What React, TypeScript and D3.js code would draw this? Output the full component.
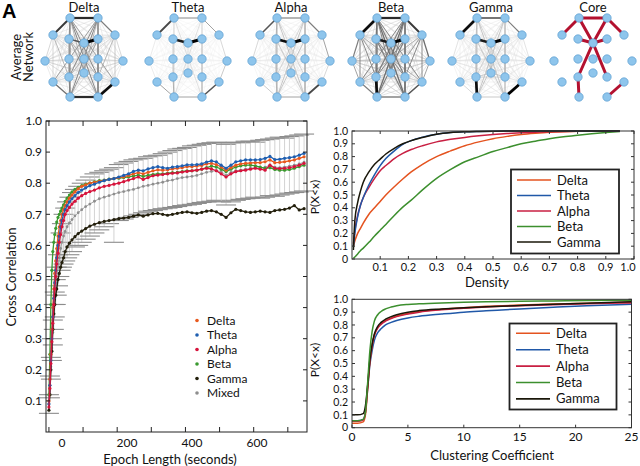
import React from 'react';
import * as d3 from 'd3';

const FONT = "Lato, 'DejaVu Sans', sans-serif";

// ---------------- Networks ----------------
const networkTitles = ['Delta', 'Theta', 'Alpha', 'Beta', 'Gamma', 'Core'];
const electrodeNames = ['Fp1','Fp2','F7','F3','Fz','F4','F8','T3','C3','Cz','C4','T4','T5','P3','Pz','P4','T6','O1','O2'];
const electrodeX = [-14, 14, -31, -15, 0, 14, 31, -39, -15, 0, 14, 39, -31, -15, 0, 14, 31, -14, 14];
const electrodeY = [-40, -40, -23, -19, -15, -19, -23, 3, 1, 1, 1, 3, 24, 19, 15, 19, 24, 39, 39];

const deltaEdges = [[0,1,0.85],[0,2,0.8],[1,6,0.55],[17,18,0.85],[16,18,0.95],[12,17,0.6],[4,5,1],[3,4,0.7],[0,17,0.55],[1,18,0.55],[0,18,0.5],[1,17,0.5],[0,15,0.5],[1,13,0.5],[3,18,0.45],[5,17,0.45],[0,16,0.45],[1,12,0.45],[2,13,0.4],[6,15,0.4],[3,13,0.45],[5,15,0.45],[0,3,0.45],[1,5,0.45],[13,17,0.5],[15,18,0.5],[2,12,0.3],[6,16,0.35],[8,17,0.4],[10,18,0.4],[3,15,0.4],[5,13,0.4],[2,7,0.3],[6,11,0.3],[4,14,0.4],[9,14,0.35],[0,14,0.4],[1,14,0.4]];
const thetaEdges = [[0,1,0.5],[0,2,0.75],[1,6,0.45],[3,4,0.9],[4,5,1],[16,18,0.7],[17,18,0.45],[12,17,0.45],[13,17,0.4],[15,18,0.35],[0,17,0.3],[1,18,0.3],[0,18,0.25],[1,17,0.25],[3,13,0.3],[5,15,0.3],[8,17,0.25],[10,18,0.25],[2,7,0.2],[6,11,0.3],[7,12,0.2],[11,16,0.35],[4,14,0.25]];
const alphaEdges = [[0,1,0.55],[0,2,0.7],[1,6,0.55],[3,4,0.95],[4,5,1],[16,18,0.75],[17,18,0.45],[12,17,0.35],[6,11,0.45],[2,7,0.3],[0,17,0.4],[1,18,0.4],[0,18,0.35],[1,17,0.35],[3,18,0.35],[5,17,0.35],[13,17,0.35],[15,18,0.35],[3,13,0.35],[5,15,0.35],[0,3,0.4],[1,5,0.4],[8,17,0.3],[10,18,0.3],[0,15,0.3],[1,13,0.3],[4,14,0.3],[11,16,0.3]];
const betaEdges = [[0,1,0.85],[0,2,0.95],[1,6,0.8],[3,4,0.9],[4,5,1],[13,17,0.95],[17,18,0.6],[16,18,0.7],[12,17,0.55],[2,7,0.55],[6,11,0.6],[0,17,0.6],[1,18,0.6],[0,18,0.6],[1,17,0.6],[0,15,0.55],[1,13,0.55],[3,18,0.55],[5,17,0.55],[0,16,0.5],[1,12,0.5],[2,13,0.5],[6,15,0.5],[3,13,0.5],[5,15,0.5],[0,3,0.55],[1,5,0.55],[15,18,0.55],[2,12,0.5],[6,16,0.5],[8,17,0.5],[10,18,0.5],[3,15,0.5],[5,13,0.5],[7,12,0.45],[11,16,0.45],[2,8,0.45],[6,10,0.45],[4,14,0.5],[9,14,0.45],[0,14,0.5],[1,14,0.5],[7,11,0.35],[2,16,0.4],[6,12,0.4]];
const gammaEdges = [[0,1,0.7],[0,2,0.95],[1,6,0.55],[3,4,0.9],[4,5,1],[13,17,0.95],[16,18,1],[17,18,0.35],[12,17,0.3],[0,17,0.35],[1,18,0.35],[0,18,0.35],[1,17,0.35],[3,18,0.35],[5,17,0.35],[0,15,0.3],[1,13,0.3],[3,13,0.35],[5,15,0.35],[8,17,0.3],[10,18,0.3],[0,3,0.35],[1,5,0.35],[4,14,0.35],[9,14,0.3],[2,7,0.25],[6,11,0.25],[13,14,0.3],[14,15,0.3],[13,15,0.3]];
const bandEdges = [deltaEdges, thetaEdges, alphaEdges, betaEdges, gammaEdges];
const backgroundWeights = [0.2, 0.04, 0.09, 0.24, 0.13];
const coreEdges = [[0,1],[0,2],[1,6],[0,4],[1,4],[3,4],[4,5],[4,13],[4,15],[13,17],[16,18]];

// ---------------- Cross correlation ----------------
const epochLength = [-40,-37,-34,-31,-28,-25,-22,-19,-16,-12,-8,-4,0,5,10,16,23,31,40,50,61,73,86,100,115,130,145,160,175,190,205,220,235,250,265,280,295,310,325,340,355,370,385,400,415,430,445,460,475,490,505,520,535,550,565,580,595,610,625,640,655,670,685,700,715,730,745];
const ccDelta = [0.1,0.17,0.25,0.33,0.4,0.46,0.51,0.55,0.59,0.63,0.66,0.68,0.7,0.715,0.728,0.74,0.752,0.762,0.772,0.782,0.79,0.795,0.8,0.803,0.806,0.809,0.812,0.815,0.818,0.82,0.825,0.83,0.834,0.83,0.835,0.84,0.843,0.842,0.843,0.846,0.848,0.85,0.853,0.853,0.855,0.857,0.862,0.864,0.86,0.852,0.842,0.85,0.858,0.862,0.864,0.865,0.866,0.866,0.869,0.875,0.866,0.867,0.869,0.872,0.875,0.88,0.885];
const ccTheta = [0.09,0.15,0.23,0.3,0.37,0.43,0.48,0.52,0.56,0.6,0.63,0.66,0.68,0.7,0.715,0.728,0.74,0.75,0.76,0.77,0.778,0.785,0.792,0.797,0.803,0.808,0.812,0.815,0.82,0.825,0.83,0.838,0.842,0.84,0.846,0.85,0.853,0.85,0.848,0.852,0.853,0.856,0.859,0.859,0.86,0.862,0.868,0.872,0.869,0.858,0.848,0.858,0.869,0.872,0.875,0.875,0.875,0.876,0.88,0.886,0.876,0.877,0.88,0.882,0.885,0.89,0.896];
const ccAlpha = [0.08,0.14,0.22,0.29,0.35,0.41,0.46,0.5,0.54,0.575,0.61,0.635,0.66,0.68,0.7,0.712,0.722,0.733,0.742,0.752,0.76,0.767,0.773,0.778,0.785,0.79,0.793,0.797,0.8,0.805,0.81,0.815,0.82,0.812,0.818,0.824,0.826,0.828,0.83,0.832,0.833,0.836,0.838,0.84,0.842,0.845,0.848,0.846,0.84,0.83,0.82,0.83,0.837,0.84,0.842,0.845,0.848,0.845,0.842,0.858,0.848,0.847,0.848,0.85,0.853,0.858,0.864];
const ccBeta = [0.12,0.25,0.41,0.52,0.58,0.61,0.635,0.655,0.675,0.69,0.7,0.71,0.72,0.73,0.742,0.752,0.762,0.772,0.78,0.787,0.792,0.797,0.8,0.804,0.808,0.81,0.813,0.815,0.816,0.818,0.82,0.823,0.826,0.822,0.825,0.828,0.83,0.83,0.832,0.834,0.835,0.837,0.84,0.84,0.842,0.845,0.85,0.855,0.852,0.845,0.837,0.845,0.852,0.856,0.858,0.858,0.856,0.852,0.848,0.85,0.844,0.842,0.842,0.844,0.848,0.853,0.858];
const ccGamma = [0.07,0.12,0.2,0.26,0.33,0.38,0.41,0.44,0.46,0.49,0.51,0.53,0.545,0.56,0.58,0.595,0.607,0.618,0.628,0.638,0.646,0.654,0.662,0.668,0.673,0.677,0.68,0.683,0.686,0.688,0.69,0.694,0.698,0.694,0.698,0.702,0.703,0.7,0.697,0.7,0.703,0.706,0.708,0.705,0.703,0.706,0.71,0.712,0.708,0.7,0.69,0.705,0.716,0.712,0.708,0.706,0.708,0.71,0.708,0.706,0.712,0.714,0.716,0.72,0.728,0.714,0.718];
const ccMixed = [0.09,0.15,0.21,0.27,0.32,0.37,0.41,0.45,0.49,0.53,0.56,0.59,0.61,0.63,0.645,0.66,0.672,0.683,0.695,0.705,0.715,0.725,0.733,0.742,0.75,0.755,0.76,0.765,0.77,0.773,0.777,0.78,0.785,0.79,0.793,0.797,0.8,0.803,0.808,0.81,0.815,0.818,0.82,0.822,0.825,0.83,0.835,0.838,0.84,0.838,0.825,0.835,0.84,0.842,0.845,0.848,0.85,0.848,0.852,0.858,0.852,0.85,0.852,0.855,0.858,0.862,0.868];
const ccMixedHigh = [0.12,0.18,0.24,0.3,0.36,0.41,0.45,0.49,0.53,0.57,0.61,0.64,0.67,0.7,0.72,0.74,0.755,0.77,0.78,0.79,0.8,0.81,0.82,0.83,0.835,0.84,0.845,0.85,0.86,0.865,0.87,0.875,0.878,0.88,0.885,0.888,0.89,0.895,0.9,0.905,0.91,0.912,0.915,0.92,0.922,0.925,0.928,0.93,0.932,0.93,0.925,0.93,0.932,0.93,0.935,0.935,0.932,0.938,0.94,0.942,0.945,0.948,0.945,0.95,0.952,0.955,0.958];
const ccMixedLow = [0.06,0.11,0.17,0.23,0.28,0.33,0.37,0.41,0.44,0.47,0.5,0.52,0.53,0.54,0.55,0.56,0.57,0.58,0.595,0.6,0.61,0.62,0.63,0.64,0.65,0.66,0.67,0.61,0.68,0.685,0.69,0.695,0.7,0.705,0.71,0.712,0.715,0.718,0.72,0.722,0.725,0.728,0.73,0.732,0.735,0.738,0.74,0.742,0.745,0.74,0.73,0.74,0.745,0.748,0.75,0.752,0.755,0.752,0.755,0.76,0.758,0.762,0.765,0.768,0.77,0.772,0.775];
const ccTickMarks = [-40, 65, 170, 275, 380, 485, 590, 695];
const ccTickLabels = [0, 200, 400, 600];
const ccYTicks = [0.1,0.2,0.3,0.4,0.5,0.6,0.7,0.8,0.9,1.0];
const ccLegend = ['Delta','Theta','Alpha','Beta','Gamma','Mixed'];

// ---------------- Density CDF ----------------
const densityX = [0.005,0.01,0.02,0.03,0.04,0.06,0.08,0.1,0.12,0.15,0.18,0.21,0.25,0.3,0.35,0.4,0.45,0.5,0.55,0.6,0.65,0.7,0.75,0.8,0.85,0.9,0.95];
const densDelta = [0.1,0.14,0.2,0.24,0.28,0.35,0.4,0.45,0.5,0.565,0.625,0.68,0.74,0.8,0.845,0.885,0.915,0.94,0.958,0.972,0.982,0.99,0.995,0.998,1,1,1];
const densTheta = [0.1,0.2,0.33,0.42,0.48,0.58,0.66,0.73,0.785,0.845,0.895,0.925,0.952,0.975,0.988,0.994,0.997,0.999,1,1,1,1,1,1,1,1,1];
const densAlpha = [0.12,0.22,0.34,0.42,0.48,0.56,0.63,0.69,0.73,0.785,0.825,0.855,0.885,0.915,0.935,0.95,0.962,0.972,0.98,0.986,0.99,0.994,0.997,0.999,1,1,1];
const densBeta = [0.005,0.015,0.04,0.065,0.085,0.13,0.18,0.225,0.27,0.34,0.405,0.46,0.54,0.63,0.7,0.76,0.8,0.84,0.87,0.9,0.92,0.94,0.955,0.967,0.978,0.988,0.997];
const densGamma = [0.07,0.3,0.44,0.53,0.6,0.68,0.74,0.78,0.82,0.865,0.9,0.925,0.95,0.975,0.988,0.994,0.997,0.999,1,1,1,1,1,1,1,1,1];
const densXTicks = [0.1,0.2,0.3,0.4,0.5,0.6,0.7,0.8,0.9,1.0];
const probTicks = [0,0.1,0.2,0.3,0.4,0.5,0.6,0.7,0.8,0.9,1.0];

// ---------------- Clustering CDF ----------------
const clusterX = [0,0.5,1.0,1.2,1.4,1.6,1.8,2.0,2.3,2.6,3.0,3.5,4,5,6,8,10,12,15,18,21,25];
const clusDelta = [0.035,0.035,0.045,0.1,0.3,0.51,0.64,0.72,0.78,0.81,0.835,0.855,0.87,0.89,0.905,0.922,0.935,0.945,0.955,0.963,0.97,0.977];
const clusTheta = [0.055,0.055,0.065,0.12,0.3,0.49,0.6,0.68,0.74,0.77,0.8,0.82,0.835,0.855,0.868,0.885,0.9,0.91,0.925,0.938,0.95,0.962];
const clusAlpha = [0.05,0.05,0.06,0.12,0.32,0.52,0.64,0.72,0.775,0.805,0.83,0.85,0.865,0.885,0.9,0.918,0.93,0.94,0.95,0.958,0.965,0.972];
const clusBeta = [0.055,0.055,0.065,0.12,0.35,0.6,0.75,0.83,0.88,0.905,0.925,0.94,0.95,0.96,0.965,0.972,0.977,0.98,0.984,0.987,0.99,0.993];
const clusGamma = [0.1,0.1,0.11,0.17,0.33,0.53,0.65,0.73,0.79,0.82,0.845,0.865,0.88,0.9,0.912,0.925,0.935,0.942,0.952,0.962,0.97,0.98];
const clusXTicks = [0,5,10,15,20,25];
const cdfLegend = ['Delta','Theta','Alpha','Beta','Gamma'];

const ccColors: Record<string, string> = {
  Delta: '#e8591e', Theta: '#1f5fb0', Alpha: '#d6133b', Beta: '#3a9a30', Gamma: '#231f0c', Mixed: '#8e8e8e',
};
const cdfColors: Record<string, string> = {
  Delta: '#e4531f', Theta: '#2058a8', Alpha: '#c81f42', Beta: '#3c8f2e', Gamma: '#1a170a',
};

function Network({ cx, cy, index }: { cx: number; cy: number; index: number }) {
  const isCore = index === 5;
  const px = (i: number) => cx + electrodeX[i];
  const py = (i: number) => cy + electrodeY[i];
  const color = (w: number) => d3.interpolateGreys(0.1 + 0.9 * w);
  const width = (w: number) => 0.35 + 2.6 * w * w;
  let lines: { a: number; b: number; w: number }[] = [];
  if (!isCore) {
    const listed = bandEdges[index];
    const key = new Set(listed.map(e => `${e[0]}-${e[1]}`));
    const bg: { a: number; b: number; w: number }[] = [];
    for (let i = 0; i < electrodeNames.length; i++)
      for (let j = i + 1; j < electrodeNames.length; j++)
        if (!key.has(`${i}-${j}`)) bg.push({ a: i, b: j, w: backgroundWeights[index] });
    const strong = listed.map(e => ({ a: e[0], b: e[1], w: e[2] })).sort((p, q) => p.w - q.w);
    lines = bg.concat(strong);
  }
  return (
    <g>
      <text x={cx} y={12} textAnchor="middle" fontSize={13} fontFamily={FONT} fill="#111">{networkTitles[index]}</text>
      {!isCore && lines.map((l, k) => (
        <line key={k} x1={px(l.a)} y1={py(l.a)} x2={px(l.b)} y2={py(l.b)} stroke={color(l.w)} strokeWidth={width(l.w)} />
      ))}
      {isCore && coreEdges.map((e, k) => (
        <line key={k} x1={px(e[0])} y1={py(e[0])} x2={px(e[1])} y2={py(e[1])} stroke="#b3112f" strokeWidth={3} strokeLinecap="round" />
      ))}
      {electrodeNames.map((n, i) => (
        <circle key={n} cx={px(i)} cy={py(i)} r={4.2} fill="#8ec5ec" stroke="#5b9dd0" strokeWidth={0.7} />
      ))}
    </g>
  );
}

export default function App() {
  const xL = d3.scaleLinear().domain([-49, 754]).range([46, 307]);
  const yL = d3.scaleLinear().domain([0, 1]).range([432, 121]);
  const ccSeries: [string, number[]][] = [
    ['Gamma', ccGamma], ['Beta', ccBeta], ['Delta', ccDelta], ['Theta', ccTheta], ['Alpha', ccAlpha],
  ];
  const lineL = d3.line<number>().x((_, i) => xL(epochLength[i])).y(d => yL(d));

  const xD = d3.scaleLinear().domain([0, 1]).range([352, 634]);
  const yD = d3.scaleLinear().domain([0, 1]).range([259, 131]);
  const densSeries: [string, number[]][] = [
    ['Beta', densBeta], ['Delta', densDelta], ['Alpha', densAlpha], ['Theta', densTheta], ['Gamma', densGamma],
  ];
  const lineD = d3.line<number>().x((_, i) => xD(densityX[i])).y(d => yD(d)).curve(d3.curveMonotoneX);

  const xC = d3.scaleLinear().domain([0, 25]).range([352, 631.5]);
  const yC = d3.scaleLinear().domain([0, 1]).range([427.7, 299.3]);
  const clusSeries: [string, number[]][] = [
    ['Theta', clusTheta], ['Delta', clusDelta], ['Alpha', clusAlpha], ['Gamma', clusGamma], ['Beta', clusBeta],
  ];
  const lineC = d3.line<number>().x((_, i) => xC(clusterX[i])).y(d => yC(d)).curve(d3.curveMonotoneX);

  const fmt1 = d3.format('.1f');
  const probFmt = (v: number) => (v === 0 ? '0' : fmt1(v));
  const netCenters = [84, 188, 291, 391, 491, 593];
  const txt = { fontFamily: FONT, fill: '#111' };
  const TICK_FS = 10.5;
  const legStep = 14.5;

  return (
    <svg width={640} height={466} style={{ position: 'absolute', left: 0, top: 0, background: '#fff' }}>
      <rect x={0} y={0} width={640} height={466} fill="#fff" />
      <text x={2} y={18} fontSize={20} fontWeight="bold" fontFamily="'Liberation Sans', Arial, sans-serif">A</text>
      <text transform="translate(21,57) rotate(-90)" textAnchor="middle" fontSize={13} {...txt}>Average</text>
      <text transform="translate(33,57) rotate(-90)" textAnchor="middle" fontSize={13} {...txt}>Network</text>
      {netCenters.map((c, i) => <Network key={i} cx={c} cy={58} index={i} />)}

      {/* Cross-correlation chart */}
      <g>
        {epochLength.map((x, i) => {
          const xp = xL(x);
          return (
            <g key={i}>
              <line x1={xp} x2={xp} y1={yL(ccMixedLow[i])} y2={yL(ccMixedHigh[i])} stroke="#c6c6c6" strokeWidth={0.8} />
              <line x1={xp - 10} x2={xp + 10} y1={yL(ccMixedLow[i])} y2={yL(ccMixedLow[i])} stroke="#8c8c8c" strokeWidth={1.1} />
              <line x1={xp - 10} x2={xp + 10} y1={yL(ccMixedHigh[i])} y2={yL(ccMixedHigh[i])} stroke="#8c8c8c" strokeWidth={1.1} />
            </g>
          );
        })}
        <path d={lineL(ccMixed) || ''} fill="none" stroke={ccColors.Mixed} strokeWidth={0.8} />
        {ccMixed.map((v, i) => <circle key={i} cx={xL(epochLength[i])} cy={yL(v)} r={1.4} fill={ccColors.Mixed} />)}
        {ccSeries.map(([name, vals]) => (
          <g key={name}>
            <path d={lineL(vals) || ''} fill="none" stroke={ccColors[name]} strokeWidth={1.3} />
            {vals.map((v, i) => <circle key={i} cx={xL(epochLength[i])} cy={yL(v)} r={1.6} fill={ccColors[name]} />)}
          </g>
        ))}
        <rect x={46} y={121} width={261} height={311} fill="none" stroke="#222" strokeWidth={1} />
        {ccYTicks.map(v => (
          <g key={v}>
            <line x1={46} x2={50} y1={yL(v)} y2={yL(v)} stroke="#222" />
            <line x1={303} x2={307} y1={yL(v)} y2={yL(v)} stroke="#222" />
            <text x={42} y={yL(v)} dy="0.35em" textAnchor="end" fontSize={12} {...txt}>{fmt1(v)}</text>
          </g>
        ))}
        {ccTickMarks.map(v => (
          <g key={v}>
            <line x1={xL(v)} x2={xL(v)} y1={432} y2={427} stroke="#222" />
            <line x1={xL(v)} x2={xL(v)} y1={121} y2={126} stroke="#222" />
          </g>
        ))}
        {ccTickLabels.map(v => (
          <text key={v} x={xL(v)} y={447} textAnchor="middle" fontSize={12} {...txt}>{v}</text>
        ))}
        <text x={170} y={464} textAnchor="middle" fontSize={13} {...txt}>Epoch Length (seconds)</text>
        <text transform="translate(16,277) rotate(-90)" textAnchor="middle" fontSize={13} {...txt}>Cross Correlation</text>
        {ccLegend.map((name, i) => (
          <g key={name}>
            <circle cx={197} cy={320.5 + i * legStep} r={1.8} fill={ccColors[name]} />
            <text x={207} y={320.5 + i * legStep} dy="0.35em" fontSize={12} {...txt}>{name}</text>
          </g>
        ))}
      </g>

      {/* Density CDF */}
      <g>
        {densSeries.map(([name, vals]) => (
          <path key={name} d={lineD(vals) || ''} fill="none" stroke={cdfColors[name]} strokeWidth={1.5} />
        ))}
        <rect x={352} y={131} width={282} height={128} fill="none" stroke="#333" strokeWidth={1} />
        {probTicks.map(v => (
          <g key={v}>
            <line x1={352} x2={355} y1={yD(v)} y2={yD(v)} stroke="#333" />
            <line x1={631} x2={634} y1={yD(v)} y2={yD(v)} stroke="#333" />
            <text x={348} y={yD(v)} dy="0.35em" textAnchor="end" fontSize={TICK_FS} {...txt}>{probFmt(v)}</text>
          </g>
        ))}
        {densXTicks.map(v => (
          <g key={v}>
            <line x1={xD(v)} x2={xD(v)} y1={259} y2={256} stroke="#333" />
            <line x1={xD(v)} x2={xD(v)} y1={131} y2={134} stroke="#333" />
            <text x={Math.min(xD(v), 628)} y={271} textAnchor="middle" fontSize={TICK_FS + 0.5} {...txt}>{fmt1(v)}</text>
          </g>
        ))}
        <text x={487} y={287} textAnchor="middle" fontSize={13} {...txt}>Density</text>
        <text transform="translate(319,197) rotate(-90)" textAnchor="middle" fontSize={12} {...txt}>P(X&lt;x)</text>
        <rect x={511} y={169.5} width={108} height={84} fill="#fff" stroke="#222" strokeWidth={1.8} />
        {cdfLegend.map((name, i) => (
          <g key={name}>
            <line x1={517} x2={551} y1={180 + i * 15.5} y2={180 + i * 15.5} stroke={cdfColors[name]} strokeWidth={1.6} />
            <text x={557} y={180 + i * 15.5} dy="0.35em" fontSize={13} {...txt}>{name}</text>
          </g>
        ))}
      </g>

      {/* Clustering CDF */}
      <g>
        {clusSeries.map(([name, vals]) => (
          <path key={name} d={lineC(vals) || ''} fill="none" stroke={cdfColors[name]} strokeWidth={1.5} />
        ))}
        <rect x={352} y={299.3} width={279.5} height={128.4} fill="none" stroke="#333" strokeWidth={1} />
        {probTicks.map(v => (
          <g key={v}>
            <line x1={352} x2={355} y1={yC(v)} y2={yC(v)} stroke="#333" />
            <line x1={628.5} x2={631.5} y1={yC(v)} y2={yC(v)} stroke="#333" />
            <text x={348} y={yC(v)} dy="0.35em" textAnchor="end" fontSize={TICK_FS} {...txt}>{probFmt(v)}</text>
          </g>
        ))}
        {clusXTicks.map(v => (
          <g key={v}>
            <line x1={xC(v)} x2={xC(v)} y1={427.7} y2={424.7} stroke="#333" />
            <text x={xC(v)} y={441} textAnchor="middle" fontSize={12} {...txt}>{v}</text>
          </g>
        ))}
        <text x={492} y={460} textAnchor="middle" fontSize={13} {...txt}>Clustering Coefficient</text>
        <text transform="translate(319,360) rotate(-90)" textAnchor="middle" fontSize={12} {...txt}>P(X&lt;x)</text>
        <rect x={509.5} y={323.5} width={107} height={86} fill="#fff" stroke="#222" strokeWidth={1.8} />
        {cdfLegend.map((name, i) => (
          <g key={name}>
            <line x1={516} x2={550} y1={333.3 + i * 16.4} y2={333.3 + i * 16.4} stroke={cdfColors[name]} strokeWidth={1.6} />
            <text x={556} y={333.3 + i * 16.4} dy="0.35em" fontSize={13} {...txt}>{name}</text>
          </g>
        ))}
      </g>
    </svg>
  );
}
